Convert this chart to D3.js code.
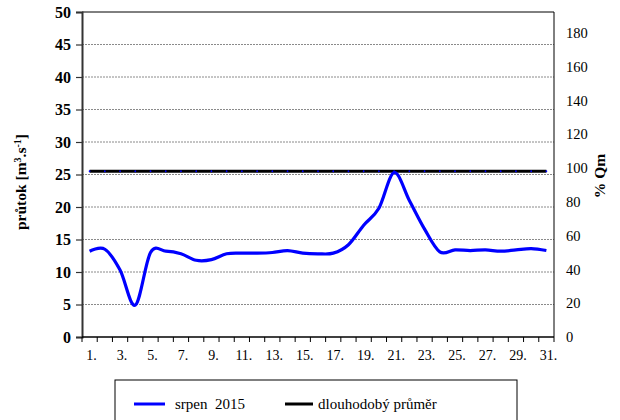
<!DOCTYPE html>
<html>
<head>
<meta charset="utf-8">
<script src="https://cdn.jsdelivr.net/npm/d3@7"></script>
</head>
<body style="margin:0; background:#fff">
<svg id="chart" width="620" height="420" font-family="Liberation Serif"></svg>
<script>
// Daily discharge, August 2015
const days = d3.range(1, 32);
const flow = [13.2, 13.5, 10.3, 4.9, 13.0, 13.2, 12.8, 11.8, 11.9, 12.8,
              12.9, 12.9, 13.0, 13.3, 12.9, 12.8, 12.9, 14.2, 17.2, 19.8,
              25.3, 21.0, 16.6, 13.1, 13.4, 13.3, 13.4, 13.2, 13.4, 13.6, 13.3];
const longTermMean = 25.5;
const leftTicks = d3.range(0, 51, 5);
const rightTicks = d3.range(0, 181, 20);
const dayLabels = days.filter(d => d % 2 === 1);

const FONT = '"Liberation Serif", "Times New Roman", Tinos, FreeSerif, serif';
const svg = d3.select("#chart");
const plot = { left: 82, right: 554, top: 12, bottom: 337 };

const x = d3.scaleBand().domain(days).range([plot.left, plot.right]).padding(0);
const y = d3.scaleLinear().domain([0, 50]).range([plot.bottom, plot.top]);
const yPct = d3.scaleLinear().domain([0, 50 / 26 * 100]).range([plot.bottom, plot.top]);
const cx = d => x(d) + x.bandwidth() / 2;

// horizontal grid lines
svg.append("g").selectAll("line")
  .data(leftTicks.filter(t => t > 0 && t < 50))
  .join("line")
  .attr("x1", plot.left).attr("x2", plot.right)
  .attr("y1", d => y(d)).attr("y2", d => y(d))
  .attr("stroke", "#8a8a8a").attr("stroke-width", 1)
  .attr("stroke-dasharray", "2,1");

// frame: top and right border
svg.append("path")
  .attr("d", `M${plot.left},${plot.top}H${plot.right}V${plot.bottom}`)
  .attr("fill", "none").attr("stroke", "#000").attr("stroke-width", 1);

// left axis
const gy = svg.append("g")
  .attr("transform", `translate(${plot.left},0)`)
  .call(d3.axisLeft(y).tickValues(leftTicks).tickSize(6).tickPadding(5))
  .attr("font-family", "Liberation Serif");
gy.select(".domain").attr("stroke", "#333").attr("stroke-width", 2);
gy.selectAll(".tick line").attr("stroke", "#333").attr("stroke-width", 1.2);
gy.selectAll("text")
  .style("font-family", FONT).style("font-size", "16px").style("font-weight", "bold")
  .attr("fill", "#000");

// right axis (percent of long-term mean)
const gr = svg.append("g")
  .attr("transform", `translate(${plot.right},0)`)
  .call(d3.axisRight(yPct).tickValues(rightTicks).tickSize(0).tickPadding(12))
  .attr("font-family", "Liberation Serif");
gr.select(".domain").remove();
gr.selectAll("text")
  .style("font-family", FONT).style("font-size", "14.5px").attr("fill", "#000");

// bottom axis: ticks between days, labels on odd days
const gx = svg.append("g").attr("transform", `translate(0,${plot.bottom})`);
gx.append("line")
  .attr("x1", plot.left).attr("x2", plot.right)
  .attr("stroke", "#000").attr("stroke-width", 1.5);
gx.selectAll("line.tick")
  .data(days.concat([32]))
  .join("line").attr("class", "tick")
  .attr("x1", d => d <= 31 ? x(d) : plot.right)
  .attr("x2", d => d <= 31 ? x(d) : plot.right)
  .attr("y1", 0).attr("y2", 5)
  .attr("stroke", "#000");
gx.selectAll("text")
  .data(dayLabels)
  .join("text")
  .attr("x", d => cx(d) + 2)
  .attr("y", 23)
  .attr("text-anchor", "middle")
  .style("font-family", FONT).style("font-size", "14px")
  .text(d => d + ".");

// axis titles
svg.append("text")
  .attr("transform", "translate(26,182) rotate(-90)")
  .attr("text-anchor", "middle")
  .style("font-family", FONT).style("font-size", "15.5px").style("font-weight", "bold")
  .html('průtok [m<tspan baseline-shift="super" font-size="10">3</tspan>.s<tspan baseline-shift="super" font-size="10">-1</tspan>]');
svg.append("text")
  .attr("transform", "translate(605,176) rotate(-90)")
  .attr("text-anchor", "middle")
  .style("font-family", FONT).style("font-size", "15.5px").style("font-weight", "bold")
  .text("% Qm");

// long-term mean
svg.append("line")
  .attr("x1", cx(1)).attr("x2", cx(31))
  .attr("y1", y(longTermMean)).attr("y2", y(longTermMean))
  .attr("stroke", "#000").attr("stroke-width", 3);
svg.append("g").selectAll("circle")
  .data(days)
  .join("circle")
  .attr("cx", d => cx(d)).attr("cy", y(longTermMean))
  .attr("r", 0.9).attr("fill", "#0000ff");

// daily discharge
const line = d3.line()
  .x((d, i) => cx(days[i]))
  .y(d => y(d))
  .curve(d3.curveCatmullRom.alpha(0));
svg.append("path")
  .datum(flow)
  .attr("d", line)
  .attr("fill", "none")
  .attr("stroke", "#0000ff")
  .attr("stroke-width", 3.2);

// legend
const lg = svg.append("g");
lg.append("rect")
  .attr("x", 115).attr("y", 380).attr("width", 402).attr("height", 50)
  .attr("fill", "#fff").attr("stroke", "#000");
lg.append("line")
  .attr("x1", 134).attr("x2", 165).attr("y1", 404).attr("y2", 404)
  .attr("stroke", "#0000ff").attr("stroke-width", 3);
lg.append("text")
  .attr("x", 175).attr("y", 409)
  .style("font-family", FONT).style("font-size", "15px").style("white-space", "pre")
  .text("srpen  2015");
lg.append("line")
  .attr("x1", 285).attr("x2", 313).attr("y1", 404).attr("y2", 404)
  .attr("stroke", "#000").attr("stroke-width", 3);
lg.append("text")
  .attr("x", 318).attr("y", 409)
  .style("font-family", FONT).style("font-size", "15px")
  .text("dlouhodobý průměr");
</script>
</body>
</html>
